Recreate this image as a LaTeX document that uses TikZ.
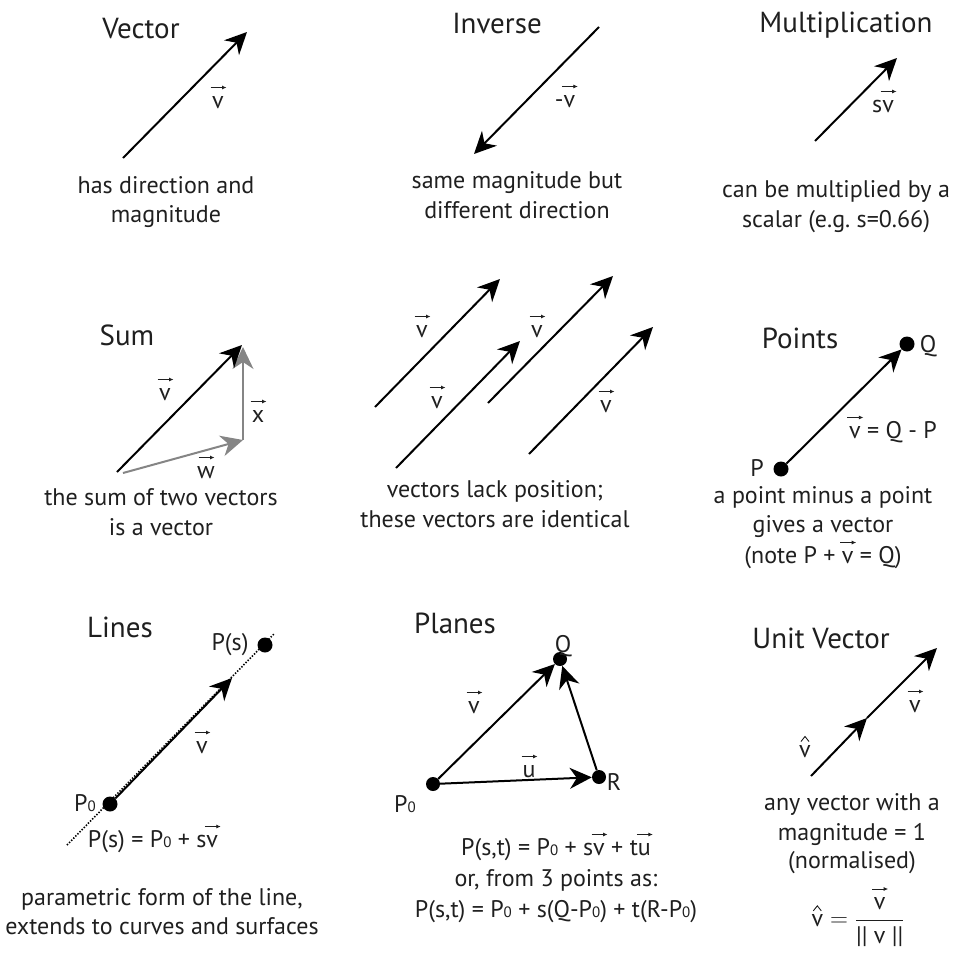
\documentclass[tikz,border=0pt]{standalone}
\usepackage{fontspec}
\setmainfont{PT Sans}
\usetikzlibrary{arrows.meta}
\frenchspacing
\newcommand{\vecarrow}{\tikz[baseline=0pt,x=1pt,y=1pt]{\draw[line width=0.8pt,-{Latex[length=4.5pt,width=4pt]}] (0,20.5)--(16,20.5);}}
\newcommand{\hatmark}{\tikz[baseline=0pt,x=1pt,y=1pt]{\draw[line width=0.9pt,line join=miter] (0,15.5)--(4,20.5)--(8,15.5);}}
\newcommand{\myvec}[1]{\ooalign{#1\cr\hidewidth\kern1pt\vecarrow\hidewidth\cr}}
\newcommand{\myhat}[1]{\ooalign{#1\cr\hidewidth\hatmark\hidewidth\cr}}
\newcommand{\Pzero}{P{\fontsize{15}{15}\selectfont 0}}
\begin{document}
\begin{tikzpicture}[x=1pt,y=-1pt,
  vecline/.style={line width=2pt,-{Stealth[length=22pt,width=21pt,inset=7pt]}},
  grayvec/.style={vecline,draw=black!48},
  txt/.style={font=\fontsize{24}{28}\selectfont,anchor=base,inner sep=0pt,text=black!88},
  ttl/.style={font=\fontsize{29}{33}\selectfont,anchor=base,inner sep=0pt,text=black!88},
  lbl/.style={font=\fontsize{24}{28}\selectfont,anchor=base,inner sep=0pt,text=black!88},
  dot/.style={circle,fill=black,inner sep=0pt,minimum size=15pt},
  dottedline/.style={line width=1.6pt,dash pattern=on 1.4pt off 1.6pt}]
\useasboundingbox (0,0) rectangle (955,956);

% ---------- Vector ----------
\node[ttl] (t1) at (141,38) {Vector};
\coordinate (a1s) at (123,158); \coordinate (a1e) at (247,32);
\draw[vecline] (a1s) -- (a1e);
\node[lbl] (l1) at (218,108) {\myvec{v}};
\node[txt] (d1a) at (166,193) {has direction and};
\node[txt] (d1b) at (166,222) {magnitude};

% ---------- Inverse ----------
\node[ttl] (t2) at (497,33) {Inverse};
\coordinate (a2s) at (599,27); \coordinate (a2e) at (474,154);
\draw[vecline] (a2s) -- (a2e);
\node[lbl] (l2) at (565,107) {-\myvec{v}};
\node[txt] (d2a) at (517,188) {same magnitude but};
\node[txt] (d2b) at (517,218) {different direction};

% ---------- Multiplication ----------
\node[ttl] (t3) at (846,32) {Multiplication};
\coordinate (a3s) at (815,141); \coordinate (a3e) at (897,58);
\draw[vecline] (a3s) -- (a3e);
\node[lbl] (l3) at (883,112) {s\myvec{v}};
\node[txt] (d3a) at (836,197) {can be multiplied by a};
\node[txt] (d3b) at (836,227) {scalar (e.g. s=0.66)};

% ---------- Sum ----------
\node[ttl] (t4) at (127,345) {Sum};
\coordinate (sO) at (117,472); \coordinate (sW0) at (123,473);
\coordinate (sW) at (243,440); \coordinate (sX) at (243,347); \coordinate (sV) at (242,345);
\draw[grayvec] (sW0) -- (sW);
\draw[grayvec] (sW) -- (sX);
\draw[vecline] (sO) -- (sV);
\node[lbl] (l4v) at (165,400) {\myvec{v}};
\node[lbl] (l4x) at (258,422) {\myvec{x}};
\node[lbl] (l4w) at (206,478) {\myvec{w}};
\node[txt] (d4a) at (161,505) {the sum of two vectors};
\node[txt] (d4b) at (161,535) {is a vector};

% ---------- Position ----------
\coordinate (p1s) at (375,407); \coordinate (p1e) at (500,279);
\coordinate (p2s) at (396,468); \coordinate (p2e) at (520,341);
\coordinate (p3s) at (488,403); \coordinate (p3e) at (613,276);
\coordinate (p4s) at (529,454); \coordinate (p4e) at (653,327);
\draw[vecline] (p1s) -- (p1e);
\draw[vecline] (p2s) -- (p2e);
\draw[vecline] (p3s) -- (p3e);
\draw[vecline] (p4s) -- (p4e);
\node[lbl] (l5a) at (422,337) {\myvec{v}};
\node[lbl] (l5b) at (537,337) {\myvec{v}};
\node[lbl] (l5c) at (437,408) {\myvec{v}};
\node[lbl] (l5d) at (606,412) {\myvec{v}};
\node[txt] (d5a) at (495,497) {vectors lack position;};
\node[txt] (d5b) at (495,527) {these vectors are identical};

% ---------- Points ----------
\node[ttl] (t6) at (800,348) {Points};
\node[dot] (P) at (781,469) {};
\node[dot] (Q) at (907,344) {};
\draw[vecline] (P) -- (Q);
\node[lbl] (lP) at (757,476) {P};
\node[lbl] (lQ) at (928,352) {Q};
\node[lbl] (l6) at (893,438) {\myvec{v} = Q - P};
\node[txt] (d6a) at (823,503) {a point minus a point};
\node[txt] (d6b) at (823,532) {gives a vector};
\node[txt] (d6c) at (823,563) {(note P + \myvec{v} = Q)};

% ---------- Lines ----------
\node[ttl] (t7) at (120,637) {Lines};
\coordinate (Ls) at (67,845); \coordinate (Le) at (275,633);
\draw[dottedline] (Ls) -- (Le);
\node[dot] (P0) at (110,804) {};
\node[dot] (Ps) at (265,645) {};
\coordinate (Ltip) at (232,678);
\draw[vecline] (P0) -- (Ltip);
\node[lbl] (lPs) at (230,650) {P(s)};
\node[lbl] (lP0) at (85,811) {\Pzero};
\node[lbl] (l7) at (202,753) {\myvec{v}};
\node[txt] (e7) at (153,847) {P(s) = \Pzero{} + s\myvec{v}};
\node[txt] (d7a) at (162,905) {parametric form of the line,};
\node[txt] (d7b) at (162,934) {extends to curves and surfaces};

% ---------- Planes ----------
\node[ttl] (t8) at (455,633) {Planes};
\node[dot,minimum size=14pt] (PP0) at (433,784) {};
\node[dot,minimum size=14pt] (PQ) at (560,659) {};
\node[dot,minimum size=14pt] (PR) at (599,777) {};
\draw[vecline] (PP0) -- (PQ);
\draw[vecline] (PP0) -- (PR);
\draw[vecline] (PR) -- (PQ);
\node[lbl] (lPQ) at (563,652) {Q};
\node[lbl] (lPR) at (614,790) {R};
\node[lbl] (lPP0) at (405,812) {\Pzero};
\node[lbl] (l8v) at (474,713) {\myvec{v}};
\node[lbl] (l8u) at (529,777) {\myvec{u}};
\node[txt] (e8a) at (556,855) {P(s,t) = \Pzero{} + s\myvec{v} + t\myvec{u}};
\node[txt] (e8b) at (556,886) {or, from 3 points as:};
\node[txt] (e8c) at (556,917) {P(s,t) = \Pzero{} + s(Q-\Pzero) + t(R-\Pzero)};

% ---------- Unit Vector ----------
\node[ttl] (t9) at (821,648) {Unit Vector};
\coordinate (us) at (811,776); \coordinate (um) at (867,718); \coordinate (ue) at (937,648);
\draw[vecline] (us) -- (um);
\draw[vecline] (um) -- (ue);
\node[lbl] (l9v) at (915,712) {\myvec{v}};
\node[lbl] (l9h) at (805,757) {\myhat{v}};
\node[txt] (d9a) at (852,810) {any vector with a};
\node[txt] (d9b) at (852,840) {magnitude = 1};
\node[txt] (d9c) at (852,868) {(normalised)};
\node[txt,anchor=center] (f9) at (858,922) {$\mbox{\myhat{v}} = \displaystyle\frac{\mbox{\myvec{v}}}{\mbox{|| v ||}}$};
\end{tikzpicture}
\end{document}
